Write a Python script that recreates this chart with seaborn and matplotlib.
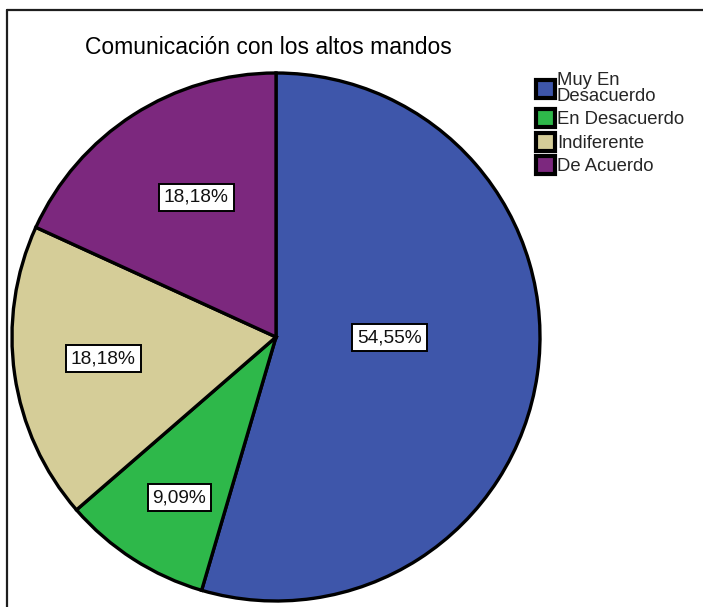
import matplotlib
matplotlib.use("Agg")
import matplotlib.pyplot as plt
from matplotlib.lines import Line2D
import numpy as np
import seaborn as sns

# Data
categories = ["Muy En\nDesacuerdo", "En Desacuerdo", "Indiferente", "De Acuerdo"]
counts = [6, 1, 2, 2]
pct_labels = ["54,55%", "9,09%", "18,18%", "18,18%"]
title = "Comunicación con los altos mandos"

# Style
colors = sns.color_palette(["#3E56AA", "#2EB84A", "#D5CD98", "#7C287E"])
label_dist = [0.43, 0.71, 0.66, 0.61]
label_angle_shift = [7.7, 1.7, -1.0, -3.0]

sns.set_theme(style="white")
plt.rcParams["font.family"] = ["Liberation Sans", "DejaVu Sans"]

W, H = 703, 607
fig = plt.figure(figsize=(W / 100, H / 100), dpi=100)
fig.patch.set_facecolor("white")

cx, cy, r = 276, 337, 264
ax = fig.add_axes([(cx - r) / W, (H - cy - r) / H, 2 * r / W, 2 * r / H])
wedges, _ = ax.pie(counts, colors=colors, startangle=90, counterclock=False,
                   radius=1.0,
                   wedgeprops=dict(edgecolor="black", linewidth=2.4))
ax.set_xlim(-1.0, 1.0)
ax.set_ylim(-1.0, 1.0)
ax.set_aspect("equal")
ax.axis("off")

# Percentage labels in boxes
for w, txt, d, sh in zip(wedges, pct_labels, label_dist, label_angle_shift):
    mid = np.deg2rad((w.theta1 + w.theta2) / 2 + sh)
    ax.text(d * np.cos(mid), d * np.sin(mid), txt, ha="center", va="center",
            fontsize=13.8, color="#111111",
            bbox=dict(boxstyle="square,pad=0.26", facecolor="white",
                      edgecolor="black", linewidth=1.4))

# Title
fig.text(268 / W, 1 - 48 / H, title, ha="center", va="center",
         fontsize=16.5, color="black")

# Legend
leg = fig.legend(wedges, categories, loc="upper left",
                 bbox_to_anchor=(536 / W, 1 - 72 / H), frameon=False,
                 fontsize=13.3, handlelength=1.05, handleheight=1.15,
                 handletextpad=0.08, labelspacing=0.22, borderpad=0,
                 borderaxespad=0)
for t in leg.get_texts():
    t.set_linespacing(0.92)
for h in leg.legend_handles:
    h.set_linewidth(3.0)

# Outer frame (left and top edges)
lc = "#1e1e1e"
fig.add_artist(Line2D([7.5 / W, 7.5 / W], [0, 1 - 10 / H],
                      transform=fig.transFigure, color=lc, linewidth=1.6))
fig.add_artist(Line2D([7.5 / W, 1], [1 - 10 / H, 1 - 10 / H],
                      transform=fig.transFigure, color=lc, linewidth=1.6))

fig.savefig("out.png", dpi=100, facecolor="white")
